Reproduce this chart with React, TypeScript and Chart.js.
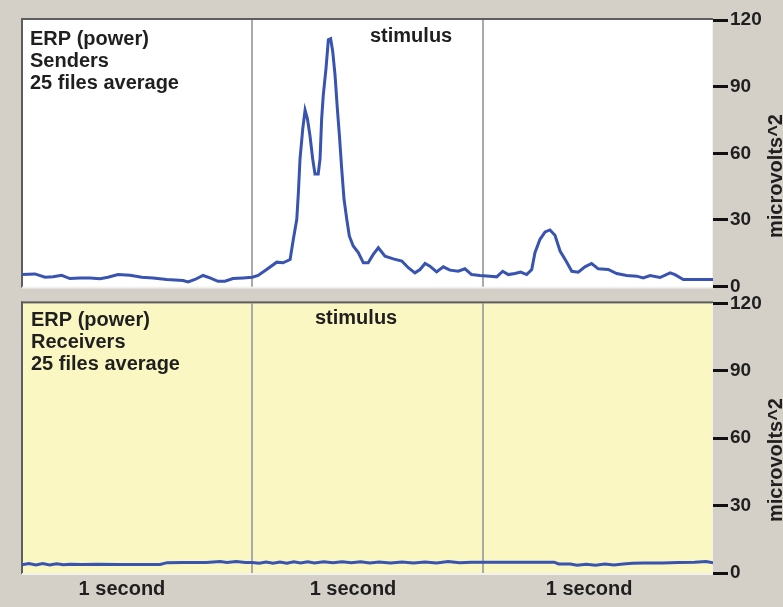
import React, { useEffect, useRef } from "react";
import { Chart, registerables } from "chart.js";

Chart.register(...registerables);

// Senders: ERP power (microvolts^2) over 3 seconds
const senderTimes = [
  0, 0.056, 0.1, 0.135, 0.172, 0.208, 0.252, 0.295, 0.339, 0.373,
  0.417, 0.469, 0.52, 0.569, 0.628, 0.699, 0.721, 0.751, 0.786, 0.816,
  0.851, 0.881, 0.916, 0.96, 1.0, 1.025, 1.062, 1.106, 1.133, 1.164,
  1.178, 1.193, 1.2, 1.207, 1.219, 1.229, 1.239, 1.25, 1.262, 1.272,
  1.286, 1.294, 1.301, 1.308, 1.32, 1.33, 1.34, 1.349, 1.359, 1.369,
  1.378, 1.388, 1.398, 1.41, 1.421, 1.438, 1.46, 1.482, 1.503, 1.525,
  1.547, 1.576, 1.612, 1.649, 1.677, 1.706, 1.728, 1.75, 1.771, 1.8,
  1.829, 1.858, 1.894, 1.923, 1.952, 1.988, 2.032, 2.061, 2.087, 2.111,
  2.14, 2.165, 2.191, 2.213, 2.227, 2.249, 2.271, 2.292, 2.314, 2.336,
  2.362, 2.387, 2.415, 2.444, 2.473, 2.502, 2.545, 2.582, 2.625, 2.669,
  2.697, 2.727, 2.77, 2.814, 2.835, 2.871, 2.929, 3.0,
];
const senderValues = [
  5.4, 5.7, 4.2, 4.4, 5.1, 3.6, 3.9, 3.9, 3.5, 4.2,
  5.4, 5.1, 4.2, 3.9, 3.2, 2.7, 2.1, 3.2, 5.0, 3.9,
  2.4, 2.4, 3.6, 3.9, 4.2, 5.0, 7.7, 11.0, 10.7, 12.2,
  21.3, 30.3, 42.4, 57.5, 71.1, 79.4, 75.6, 68.1, 57.5, 50.7,
  50.7, 57.5, 75.6, 86.2, 98.3, 111.1, 111.6, 105.8, 95.3, 80.2,
  68.1, 53, 39.4, 30.3, 22.8, 18.3, 15.3, 10.7, 10.7, 14.5,
  17.5, 13.7, 12.5, 11.5, 8.5, 6.2, 7.7, 10.4, 9.2, 6.6,
  8.9, 7.4, 6.9, 8.0, 5.4, 5.0, 4.7, 4.4, 6.9, 5.4,
  5.9, 6.5, 5.4, 7.7, 15.3, 21.3, 24.6, 25.5, 23.1, 16.0,
  11.5, 6.9, 6.5, 8.9, 10.4, 8.0, 7.7, 5.9, 5.0, 4.7,
  3.9, 5.0, 4.1, 6.2, 5.4, 3.2, 3.2, 3.2,
];

// Receivers: ERP power (microvolts^2) over 3 seconds
const receiverTimes = [
  0, 0.03, 0.06, 0.09, 0.12, 0.15, 0.18, 0.21, 0.26, 0.33,
  0.42, 0.52, 0.6, 0.63, 0.7, 0.8, 0.86, 0.89, 0.93, 0.97,
  1.0, 1.03, 1.06, 1.09, 1.12, 1.15, 1.18, 1.21, 1.24, 1.27,
  1.31, 1.35, 1.39, 1.43, 1.47, 1.51, 1.55, 1.6, 1.65, 1.7,
  1.75, 1.8, 1.85, 1.9, 1.95, 2.0, 2.1, 2.2, 2.31, 2.33,
  2.38, 2.41, 2.45, 2.49, 2.53, 2.57, 2.61, 2.65, 2.7, 2.78,
  2.85, 2.92, 2.97, 3.0,
];
const receiverValues = [
  3.7, 4.2, 3.6, 4.2, 3.6, 4.1, 3.7, 3.9, 3.8, 3.9,
  3.8, 3.8, 3.8, 4.6, 4.7, 4.7, 5.1, 4.7, 5.1, 4.7,
  4.7, 4.3, 4.9, 4.3, 4.9, 4.4, 5.0, 4.5, 5.0, 4.5,
  5.0, 4.6, 5.0, 4.6, 5.0, 4.5, 4.9, 4.4, 4.9, 4.4,
  4.9, 4.5, 5.1, 4.6, 4.8, 4.8, 4.8, 4.8, 4.8, 4.0,
  4.0, 3.5, 3.9, 3.5, 4.0, 3.6, 4.0, 4.3, 4.4, 4.5,
  4.7, 4.8, 5.1, 4.6,
];

const yTickValues = [0, 30, 60, 90, 120];
const secondDividers = [1, 2];
const segmentLabels = ["1 second", "1 second", "1 second"];
const segmentLabelAt = [0.434, 1.437, 2.462];

const FONT = '"Liberation Sans", Arial, Helvetica, sans-serif';
const LINE = "#3853b0";
const TEXT = "#1f1f1f";

type TextItem = [string, number, number];

function panelPlugin(bg: string, texts: TextItem[], titleY: number) {
  return {
    id: "panelFrame",
    beforeDraw(chart: any) {
      const { ctx, chartArea: a } = chart;
      ctx.save();
      ctx.fillStyle = bg;
      ctx.fillRect(a.left, a.top - 1, a.right - a.left, a.bottom - a.top + 2);
      ctx.restore();
    },
    beforeDatasetsDraw(chart: any) {
      const { ctx, chartArea: a } = chart;
      ctx.save();
      ctx.fillStyle = "#5e5e5e";
      ctx.fillRect(a.left - 1, a.top - 2, a.right - a.left + 1, 2);
      ctx.fillRect(a.left - 1, a.top - 2, 2, a.bottom - a.top + 3);
      ctx.fillStyle = "#f1f1ee";
      ctx.fillRect(a.left, a.bottom, a.right - a.left, 2);
      ctx.fillRect(a.right - 1, a.top, 1, a.bottom - a.top);
      ctx.restore();
    },
    afterDatasetsDraw(chart: any) {
      const { ctx } = chart;
      ctx.save();
      ctx.fillStyle = TEXT;
      ctx.font = `bold 20px ${FONT}`;
      ctx.textBaseline = "alphabetic";
      ctx.textAlign = "left";
      for (const [t, x, y] of texts) ctx.fillText(t, x, y);
      ctx.translate(782, titleY);
      ctx.rotate(-Math.PI / 2);
      ctx.textAlign = "center";
      ctx.fillText("microvolts^2", 0, 0);
      ctx.restore();
    },
  };
}

function yScale() {
  return {
    position: "right",
    min: 0,
    max: 120,
    afterBuildTicks: (s: any) => {
      s.ticks = yTickValues.map((v) => ({ value: v }));
    },
    ticks: {
      font: { family: FONT, size: 19, weight: "bold" },
      color: TEXT,
      padding: 2,
    },
    grid: {
      drawOnChartArea: false,
      drawTicks: true,
      tickLength: 15,
      tickColor: "#111111",
      tickWidth: 3,
    },
    border: { display: false },
    afterFit: (s: any) => {
      s.width = 70;
    },
  };
}

const dividerColor = (c: any) =>
  c.tick && secondDividers.includes(c.tick.value) ? "#a9a9a9" : "rgba(0,0,0,0)";

export default function App() {
  const topRef = useRef<HTMLCanvasElement>(null);
  const botRef = useRef<HTMLCanvasElement>(null);

  useEffect(() => {
    const top = new Chart(topRef.current as HTMLCanvasElement, {
      type: "line",
      data: {
        datasets: [
          {
            data: senderTimes.map((t, i) => ({ x: t, y: senderValues[i] })),
            borderColor: LINE,
            borderWidth: 3,
            pointRadius: 0,
            tension: 0,
            fill: false,
          },
        ],
      },
      options: {
        animation: false,
        responsive: false,
        devicePixelRatio: 1,
        layout: { padding: { left: 22, top: 20, right: 0, bottom: 13 } },
        plugins: { legend: { display: false }, tooltip: { enabled: false } },
        scales: {
          x: {
            type: "linear",
            min: 0,
            max: 3,
            afterBuildTicks: (s: any) => {
              s.ticks = secondDividers.map((v) => ({ value: v }));
            },
            ticks: { display: false },
            grid: { color: dividerColor, lineWidth: 2, drawTicks: false },
            border: { display: false },
            afterFit: (s: any) => {
              s.height = 0;
            },
          },
          y: yScale(),
        },
      } as any,
      plugins: [
        panelPlugin(
          "#ffffff",
          [
            ["ERP (power)", 30, 45],
            ["Senders", 30, 67],
            ["25 files average", 30, 89],
            ["stimulus", 370, 41.5],
          ],
          176
        ),
      ],
    });

    const bottom = new Chart(botRef.current as HTMLCanvasElement, {
      type: "line",
      data: {
        datasets: [
          {
            data: receiverTimes.map((t, i) => ({ x: t, y: receiverValues[i] })),
            borderColor: LINE,
            borderWidth: 3,
            pointRadius: 0,
            tension: 0,
            fill: false,
          },
        ],
      },
      options: {
        animation: false,
        responsive: false,
        devicePixelRatio: 1,
        layout: { padding: { left: 22, top: 13, right: 0, bottom: 0 } },
        plugins: { legend: { display: false }, tooltip: { enabled: false } },
        scales: {
          x: {
            type: "linear",
            min: 0,
            max: 3,
            afterBuildTicks: (s: any) => {
              s.ticks = [...secondDividers, ...segmentLabelAt]
                .sort((a, b) => a - b)
                .map((v) => ({ value: v }));
            },
            ticks: {
              autoSkip: false,
              maxRotation: 0,
              minRotation: 0,
              padding: 4,
              color: TEXT,
              font: { family: FONT, size: 20, weight: "bold" },
              callback: (value: any) => {
                const i = segmentLabelAt.indexOf(Number(value));
                return i >= 0 ? segmentLabels[i] : "";
              },
            },
            grid: { color: dividerColor, lineWidth: 2, drawTicks: false },
            border: { display: false },
            afterFit: (s: any) => {
              s.height = 34;
            },
          },
          y: yScale(),
        },
      } as any,
      plugins: [
        panelPlugin(
          "#fbf7c3",
          [
            ["ERP (power)", 31, 36],
            ["Receivers", 31, 58],
            ["25 files average", 31, 80],
            ["stimulus", 315, 33.5],
          ],
          170
        ),
      ],
    });

    return () => {
      top.destroy();
      bottom.destroy();
    };
  }, []);

  return (
    <div
      style={{
        position: "fixed",
        left: 0,
        top: 0,
        width: 783,
        height: 607,
        background: "#d4d0c8",
        overflow: "hidden",
      }}
    >
      <canvas
        ref={topRef}
        width={783}
        height={300}
        style={{ position: "absolute", left: 0, top: 0, width: 783, height: 300 }}
      />
      <canvas
        ref={botRef}
        width={783}
        height={317}
        style={{ position: "absolute", left: 0, top: 290, width: 783, height: 317 }}
      />
    </div>
  );
}
